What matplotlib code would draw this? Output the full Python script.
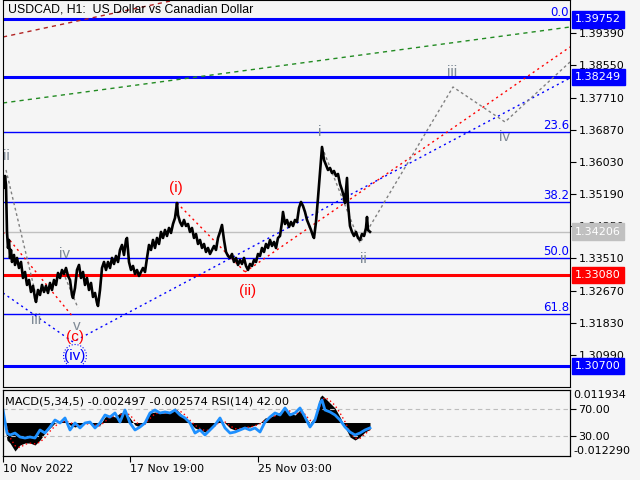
import numpy as np
import matplotlib
matplotlib.use("Agg")
import matplotlib.pyplot as plt
import matplotlib.transforms as mtransforms

plt.rcParams['font.family'] = ['DejaVu Sans']
plt.rcParams['font.size'] = 8

# ---- price data (H1 bars) ----
bars = [0, 1, 2, 3, 4, 5, 6, 7, 8, 9, 11, 12, 14, 16, 18, 20, 22, 24, 26, 28, 30, 32, 33, 35, 37,
        39, 41, 43, 45, 47, 49, 51, 53, 55, 57, 59, 61, 63, 65, 67, 69, 70, 72, 74, 76, 78, 80, 82,
        84, 86, 88, 90, 92, 94, 95, 97, 99, 101, 103, 105, 107, 109, 111, 113, 115, 117, 119, 121,
        123, 124, 126, 128, 130, 132, 134, 136, 138, 140, 142, 144, 146, 148, 150, 152, 154, 156,
        158, 160, 162, 164, 166, 168, 170, 172, 174, 175, 177, 179, 181, 183, 185, 187, 189, 191,
        193, 195, 197, 199, 201, 203, 205, 207, 209, 211, 213, 215, 217, 219, 221, 223, 225, 227,
        229, 231, 233, 235, 237, 239, 241, 243, 245, 247, 249, 251, 253, 255, 257, 259, 261, 263,
        265, 267, 269, 271, 273, 275, 277, 279, 280, 282, 284, 286, 288, 290, 292, 294, 296, 298,
        300, 302, 304, 306, 308, 310, 311, 313, 315, 317, 319, 321, 323, 325, 327, 329, 331, 333,
        335, 337, 339, 341, 342, 343, 344, 345, 347, 349, 351, 353, 355, 357, 359, 361, 363, 364,
        365, 367]
close = [1.35639, 1.35352, 1.35665, 1.35430, 1.34203, 1.33785, 1.33994, 1.33524, 1.33733, 1.33419,
         1.33602, 1.33341, 1.33524, 1.33262, 1.33419, 1.33001, 1.33158, 1.32819, 1.32949, 1.32636,
         1.32793, 1.32479, 1.32375, 1.32688, 1.32558, 1.32819, 1.32636, 1.32793, 1.32610, 1.32871,
         1.32688, 1.32949, 1.32819, 1.33132, 1.33001, 1.33210, 1.33106, 1.33262, 1.33054, 1.32949,
         1.32558, 1.32479, 1.32740, 1.33210, 1.33341, 1.33001, 1.33158, 1.32819, 1.33001, 1.32688,
         1.32871, 1.32506, 1.32610, 1.32349, 1.32270, 1.32688, 1.33262, 1.33419, 1.33210, 1.33419,
         1.33262, 1.33524, 1.33367, 1.33576, 1.33419, 1.33733, 1.33863, 1.33602, 1.33994, 1.34046,
         1.33419, 1.33210, 1.33315, 1.33106, 1.33210, 1.33054, 1.33158, 1.33262, 1.33158, 1.33524,
         1.33863, 1.33733, 1.33994, 1.33785, 1.34046, 1.33889, 1.34203, 1.34046, 1.34255, 1.34098,
         1.34307, 1.34177, 1.34411, 1.34568, 1.34960, 1.34646, 1.34464, 1.34359, 1.34516, 1.34359,
         1.34411, 1.34203, 1.34307, 1.34046, 1.34150, 1.33889, 1.33994, 1.33785, 1.33889, 1.33680,
         1.33785, 1.33628, 1.33733, 1.33837, 1.33733, 1.34046, 1.34203, 1.34385, 1.33994, 1.33680,
         1.33576, 1.33524, 1.33628, 1.33419, 1.33524, 1.33341, 1.33471, 1.33367, 1.33524, 1.33315,
         1.33210, 1.33367, 1.33315, 1.33471, 1.33419, 1.33628, 1.33576, 1.33785, 1.33680, 1.33889,
         1.33785, 1.33994, 1.33837, 1.33942, 1.33785, 1.34046, 1.34098, 1.34464, 1.34725, 1.34411,
         1.34516, 1.34333, 1.34464, 1.34359, 1.34516, 1.34464, 1.34829, 1.34986, 1.34881, 1.34725,
         1.34516, 1.34385, 1.34255, 1.34098, 1.34046, 1.34464, 1.35090, 1.35769, 1.36422, 1.36082,
         1.35952, 1.35821, 1.35874, 1.35743, 1.35795, 1.35665, 1.35717, 1.35456, 1.35299, 1.35117,
         1.34960, 1.35299, 1.35613, 1.34933, 1.34359, 1.34203, 1.34098, 1.34203, 1.34046, 1.33994,
         1.34150, 1.34098, 1.34307, 1.34594, 1.34255, 1.34206]

price_ticks = [1.30990, 1.31830, 1.32670, 1.33510, 1.34350, 1.35190, 1.36030, 1.36870,
               1.37710, 1.38550, 1.39390]
fib_pct = ["0.0", "23.6", "38.2", "50.0", "61.8"]
fib_price = [1.39752, 1.36813, 1.34985, 1.33524, 1.32062]
support_levels = [1.39752, 1.38249, 1.30700]
red_level = 1.33080
last_price = 1.34206

# trend / wave lines: (bar, price) pairs
green_line = ([0, 567], [1.37571, 1.39555])
brown_line = ([0, 172], [1.39294, 1.40260])
red_a = ([0, 70], [1.34203, 1.31983])
red_b = ([174, 242], [1.34960, 1.33158])
red_c = ([242, 567], [1.33158, 1.39033])
blue_v = ([0, 70, 567], [1.32610, 1.31330, 1.38223])
grey_left = ([3, 34], [1.35821, 1.32427])
grey_left2 = ([60, 75], [1.33158, 1.32218])
grey_right = ([319, 357, 450, 502, 567], [1.36422, 1.33915, 1.37988, 1.37075, 1.38641])

wave_labels = [("ii", 3, 1.36187, "#7f8a96"), ("iii", 33, 1.31905, "#7f8a96"),
               ("iv", 61, 1.33628, "#7f8a96"), ("v", 74, 1.31748, "#7f8a96"),
               ("(c)", 72, 1.31461, "red"), ("(i)", 173, 1.35351, "red"),
               ("(ii)", 245, 1.32662, "red"), ("i", 317, 1.36814, "#7f8a96"),
               ("ii", 360, 1.33498, "#7f8a96"), ("iii", 449, 1.38380, "#7f8a96"),
               ("iv", 501, 1.36683, "#7f8a96")]

# ---- indicator data ----
ind_bars = [0, 4, 7, 12, 17, 22, 27, 32, 37, 42, 47, 52, 57, 62, 67, 72, 77, 82, 87, 92, 97, 102,
            107, 112, 117, 122, 127, 132, 137, 142, 147, 152, 157, 162, 167, 172, 177, 182, 187,
            192, 197, 202, 207, 212, 217, 222, 227, 232, 237, 242, 247, 252, 257, 262, 267, 272,
            277, 282, 287, 292, 297, 302, 307, 312, 317, 319, 322, 327, 332, 337, 342, 347, 352,
            357, 362, 367]
macd = [0.00349, -0.00642, -0.00752, -0.01046, -0.00826, -0.00752, -0.00752, -0.00826, -0.00642,
        -0.00385, -0.00202, -0.00018, 0.00018, 0.00092, -0.00092, -0.00165, -0.00092, -0.00018,
        -0.00018, -0.00165, -0.00092, 0.00202, 0.00275, 0.00202, 0.00349, 0.00385, 0.00165,
        -0.00092, -0.00165, 0.00018, 0.00349, 0.00385, 0.00349, 0.00349, 0.00385, 0.00532,
        0.00349, 0.00165, -0.00018, -0.00202, -0.00275, -0.00349, -0.00202, -0.00018, 0.00092,
        -0.00018, -0.00202, -0.00275, -0.00202, -0.00165, -0.00165, -0.00092, -0.00018, 0.00165,
        0.00202, 0.00275, 0.00385, 0.00532, 0.00349, 0.00275, 0.00459, 0.00202, -0.00018,
        0.00202, 0.00936, 0.01009, 0.00899, 0.00716, 0.00532, 0.00202, -0.00165, -0.00532,
        -0.00642, -0.00532, -0.00349, -0.00250]
signal = [0.0030, -0.0020, -0.0055, -0.0085, -0.0092, -0.0080, -0.0076, -0.0078, -0.0072, -0.0055,
          -0.0032, -0.0013, -0.0002, 0.0005, 0.0001, -0.0010, -0.0012, -0.0007, -0.0003, -0.0010,
          -0.0012, 0.0003, 0.0020, 0.0023, 0.0028, 0.0035, 0.0028, 0.0005, -0.0010, -0.0006,
          0.0015, 0.0032, 0.0036, 0.0035, 0.0036, 0.0045, 0.0042, 0.0028, 0.0008, -0.0010,
          -0.0022, -0.0030, -0.0027, -0.0012, 0.0003, 0.0002, -0.0012, -0.0023, -0.0022, -0.0018,
          -0.0017, -0.0012, -0.0005, 0.0008, 0.0017, 0.0024, 0.0033, 0.0045, 0.0042, 0.0031,
          0.0038, 0.0030, 0.0008, 0.0005, 0.0060, 0.0080, 0.0092, 0.0080, 0.0063, 0.0035,
          0.0003, -0.0035, -0.0058, -0.0058, -0.0043, -0.002574]
rsi = [68.5, 34.4, 31.5, 34.4, 28.5, 27.0, 28.5, 27.0, 38.9, 34.4, 43.3, 53.7, 49.3, 56.7, 38.9,
       49.3, 41.9, 49.3, 50.7, 41.9, 49.3, 61.1, 58.1, 64.1, 50.7, 68.5, 49.3, 38.9, 43.3, 49.3,
       64.1, 68.5, 64.1, 65.6, 64.1, 68.5, 61.1, 56.7, 49.3, 34.4, 38.9, 31.5, 38.9, 46.3, 56.7,
       41.9, 34.4, 35.9, 38.9, 41.9, 38.9, 41.9, 35.9, 50.7, 58.1, 64.1, 61.1, 71.5, 61.1, 64.1,
       71.5, 58.1, 43.3, 53.7, 78.9, 83.3, 68.5, 65.6, 61.1, 53.7, 43.3, 35.9, 31.5, 34.4, 38.9,
       42.0]

date_ticks = [0, 127, 255]
date_labels = ["10 Nov 2022", "17 Nov 19:00", "25 Nov 03:00"]

bg = "#f5f5f5"
fig = plt.figure(figsize=(6.4, 4.8), dpi=100, facecolor=bg)

# ================= main price window =================
ax = fig.add_axes([3/640, 93/480, 567/640, 387/480], facecolor=bg)
ax.set_xlim(0, 567)
ax.set_ylim(1.30154, 1.40260)

for lv in fib_price[1:]:
    ax.axhline(lv, color="blue", lw=1, zorder=1)
for lv in support_levels:
    ax.axhline(lv, color="blue", lw=2.2, zorder=1)
ax.axhline(red_level, color="red", lw=2.2, zorder=1)
ax.axhline(last_price, color="#c0c0c0", lw=1, zorder=1)

ax.plot(*green_line, color="#228b22", lw=1, ls=(0, (3, 3)))
ax.plot(*brown_line, color="#b22222", lw=1, ls=(0, (3, 3)))
for seg in (red_a, red_b, red_c):
    ax.plot(*seg, color="red", lw=1, ls=(0, (1.5, 2.5)))
ax.plot(*blue_v, color="blue", lw=1, ls=(0, (1.5, 2.5)))
for seg in (grey_left, grey_left2, grey_right):
    ax.plot(*seg, color="#808080", lw=1, ls=(0, (2, 2)))

ax.plot(bars, close, color="black", lw=1.9, zorder=3)

for s, b, p, c in wave_labels:
    ax.text(b, p, s, color=c, ha="center", va="center", fontsize=11,
            family="Liberation Sans", zorder=4)
ax.text(72, 1.30965, "(iv)", color="blue", ha="center", va="center", fontsize=11,
        family="Liberation Sans", zorder=4,
        bbox=dict(boxstyle="circle,pad=0.05", fc="none", ec="blue", lw=0.8, ls=":"))

for pct, p in zip(fib_pct, fib_price):
    ax.text(566, p, pct, color="blue", ha="right", va="bottom", fontsize=8.5)

ax.text(5, 1.40260 - 0.0024, "USDCAD, H1:  US Dollar vs Canadian Dollar",
        ha="left", va="center", fontsize=8.8, family="Liberation Sans")

ax.yaxis.tick_right()
ax.set_yticks(price_ticks)
ax.set_yticklabels(["%.5f" % t for t in price_ticks])
ax.tick_params(axis="y", direction="out", length=4, pad=2, labelsize=8)
ax.set_xticks([])
for sp in ax.spines.values():
    sp.set_color("black")

trans = mtransforms.blended_transform_factory(ax.transAxes, ax.transData)
box_levels = [(support_levels[0], "blue"), (support_levels[1], "blue"),
              (last_price, "#c0c0c0"), (red_level, "red"), (support_levels[2], "blue")]
for p, c in box_levels:
    ax.text(1.009, p, "%.5f" % p, transform=trans, color="white", ha="left", va="center",
            fontsize=8, clip_on=False, zorder=6,
            bbox=dict(boxstyle="square,pad=0.3", fc=c, ec=c))

# ================= MACD / RSI window =================
ax2 = fig.add_axes([3/640, 24/480, 567/640, 66/480], facecolor=bg)
ax2.set_xlim(0, 567)
ax2.set_ylim(-0.012290, 0.011934)
ax2.fill_between(ind_bars, 0, macd, color="black", lw=0)
ax2.plot(ind_bars, signal, color="red", lw=1, ls=(0, (1, 2)))
ax2.set_yticks([])
ax2.set_xticks(date_ticks)
ax2.set_xticklabels(date_labels, ha="left", fontsize=7.9)
ax2.tick_params(axis="x", direction="out", length=4, pad=2)

ax3 = ax2.twinx()
ax3.set_ylim(0.4, 98.1)
ax3.axhline(70, color="#bdbdbd", lw=0.8, ls=(0, (4, 3)))
ax3.axhline(30, color="#bdbdbd", lw=0.8, ls=(0, (4, 3)))
ax3.plot(ind_bars, rsi, color="#1e90ff", lw=2)
ax3.set_yticks([70, 30])
ax3.set_yticklabels(["70.00", "30.00"])
ax3.tick_params(axis="y", direction="out", length=4, pad=2, labelsize=8)

ax2.text(1.006, 1.0, "0.011934", transform=ax2.transAxes, ha="left", va="top", fontsize=8)
ax2.text(1.006, 0.0, "-0.012290", transform=ax2.transAxes, ha="left", va="bottom", fontsize=8)
ax2.text(0.004, 0.82, "MACD(5,34,5) -0.002497 -0.002574 RSI(14) 42.00",
         transform=ax2.transAxes, ha="left", va="center", fontsize=8.2)

fig.savefig("out.png", dpi=100, facecolor=bg)
